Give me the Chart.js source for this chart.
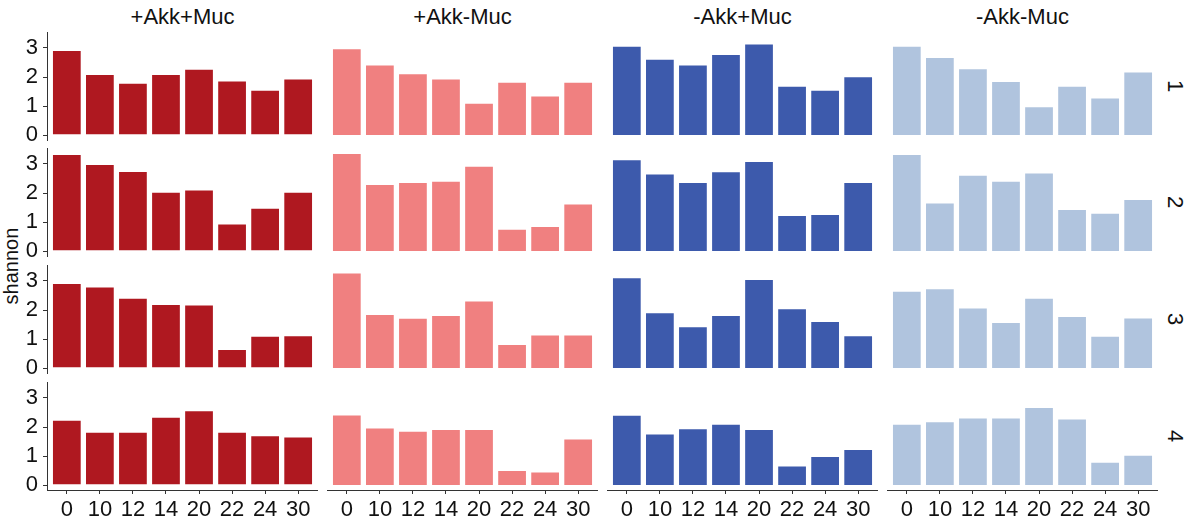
<!DOCTYPE html>
<html>
<head>
<meta charset="utf-8">
<script src="https://cdn.jsdelivr.net/npm/chart.js@4.4.0/dist/chart.umd.min.js"></script>
<style>
    body { margin: 0; background: #fff; width: 1186px; height: 525px; overflow: hidden; position: relative; font-family: "Liberation Sans", Arial, sans-serif; }
    .panel { position: absolute; }
    .strip { position: absolute; font-size: 22px; line-height: 26px; color: #111; text-align: center; white-space: nowrap; }
    .rowlab { position: absolute; font-size: 22px; line-height: 26px; color: #111; width: 40px; text-align: center; transform: rotate(90deg); }
    #ytitle { position: absolute; font-size: 20px; line-height: 22px; color: #111; width: 100px; text-align: center; transform: rotate(-90deg); }
</style>
</head>
<body>
<div id="ytitle">shannon</div>
<script>
const days = ['0', '10', '12', '14', '20', '22', '24', '30'];
const groups = ['+Akk+Muc', '+Akk-Muc', '-Akk+Muc', '-Akk-Muc'];
const replicates = ['1', '2', '3', '4'];
const groupColors = ['#AF1820', '#F08080', '#3D5AAC', '#B0C4DE'];
const yTicks = [0, 1, 2, 3];

// shannon index per replicate (rows), one list per group
const akkPlusMucPlus = [
    [2.93, 2.10, 1.80, 2.10, 2.28, 1.88, 1.56, 1.95],
    [3.34, 3.00, 2.76, 2.04, 2.12, 0.95, 1.49, 2.04],
    [2.93, 2.81, 2.42, 2.21, 2.19, 0.66, 1.11, 1.13],
    [2.25, 1.84, 1.84, 2.35, 2.58, 1.84, 1.72, 1.67]
];
const akkPlusMucMinus = [
    [2.99, 2.43, 2.13, 1.95, 1.11, 1.84, 1.36, 1.84],
    [3.38, 2.31, 2.38, 2.42, 2.94, 0.77, 0.86, 1.64],
    [3.29, 1.86, 1.73, 1.83, 2.33, 0.83, 1.16, 1.16],
    [2.43, 1.98, 1.87, 1.93, 1.93, 0.52, 0.47, 1.60]
];
const akkMinusMucPlus = [
    [3.08, 2.63, 2.43, 2.79, 3.15, 1.70, 1.56, 2.03],
    [3.16, 2.67, 2.38, 2.75, 3.10, 1.24, 1.28, 2.38],
    [3.13, 1.92, 1.44, 1.83, 3.07, 2.06, 1.62, 1.13],
    [2.42, 1.78, 1.96, 2.11, 1.93, 0.67, 1.00, 1.24]
];
const akkMinusMucMinus = [
    [3.08, 2.69, 2.30, 1.86, 0.99, 1.70, 1.29, 2.19],
    [3.34, 1.67, 2.63, 2.42, 2.71, 1.45, 1.32, 1.79],
    [2.66, 2.75, 2.09, 1.59, 2.42, 1.79, 1.11, 1.74],
    [2.11, 2.20, 2.33, 2.33, 2.69, 2.29, 0.80, 1.04]
];
const groupData = [akkPlusMucPlus, akkPlusMucMinus, akkMinusMucPlus, akkMinusMucMinus];

// facet layout
const panelLeft = [47, 327, 607, 887];
const panelTop = [32, 148, 265, 382];
const panelW = 271;
const panelH = 108;
const yAxisW = 47;
const xAxisH = 38;
const pad = 20;
const tickFont = { family: '"Liberation Sans", Arial, sans-serif', size: 22 };
const axisColor = '#333333';
const textColor = '#111111';

function addDiv(cls, text, css) {
    const d = document.createElement('div');
    d.className = cls;
    d.textContent = text;
    Object.assign(d.style, css);
    document.body.appendChild(d);
    return d;
}

groups.forEach((g, i) => {
    addDiv('strip', g, { left: panelLeft[i] + 'px', width: panelW + 'px', top: '4px' });
});

replicates.forEach((r, j) => {
    addDiv('rowlab', r, { left: (1175 - 20) + 'px', top: (panelTop[j] + panelH / 2 - 13) + 'px' });
});

const yt = document.getElementById('ytitle');
yt.style.left = (11 - 50) + 'px';
yt.style.top = (266 - 11) + 'px';

function makePanel(i, j) {
    const showY = i === 0;
    const showX = j === 3;
    const w = panelW + (showY ? yAxisW : 0);
    const h = pad + panelH + (showX ? xAxisH : pad);

    const box = document.createElement('div');
    box.className = 'panel';
    box.style.left = (panelLeft[i] - (showY ? yAxisW : 0)) + 'px';
    box.style.top = (panelTop[j] - pad) + 'px';
    const canvas = document.createElement('canvas');
    canvas.width = w;
    canvas.height = h;
    box.appendChild(canvas);
    document.body.appendChild(box);

    const values = groupData[i][j];

    new Chart(canvas.getContext('2d'), {
        type: 'bar',
        data: {
            datasets: [{
                data: values.map((v, k) => ({ x: k + 1, y: v })),
                backgroundColor: groupColors[i],
                borderColor: 'rgba(255,255,255,0.45)',
                borderWidth: 1,
                categoryPercentage: 1,
                barPercentage: 0.9
            }]
        },
        options: {
            responsive: false,
            animation: false,
            layout: { padding: { top: pad, bottom: showX ? 0 : pad, left: 0, right: 0 } },
            plugins: { legend: { display: false }, tooltip: { enabled: false } },
            scales: {
                x: {
                    type: 'linear',
                    offset: false,
                    min: 0.4,
                    max: 8.6,
                    display: showX,
                    afterBuildTicks: s => { s.ticks = days.map((d, k) => ({ value: k + 1 })); },
                    afterFit: s => { s.height = showX ? xAxisH : 0; },
                    grid: { display: true, offset: false, drawOnChartArea: false, drawTicks: true, tickLength: 4, color: axisColor },
                    border: { display: true, color: axisColor, width: 1 },
                    ticks: { callback: v => days[v - 1], font: tickFont, color: textColor, padding: 3, maxRotation: 0, autoSkip: false }
                },
                y: {
                    type: 'linear',
                    min: -0.17,
                    max: 3.55,
                    display: showY,
                    afterBuildTicks: s => { s.ticks = yTicks.map(v => ({ value: v })); },
                    afterFit: s => { s.width = showY ? yAxisW : 0; },
                    grid: { display: true, drawOnChartArea: false, drawTicks: true, tickLength: 4, color: axisColor },
                    border: { display: true, color: axisColor, width: 1 },
                    ticks: { font: tickFont, color: textColor, padding: 5, autoSkip: false }
                }
            }
        }
    });
}

for (let j = 0; j < replicates.length; j++) {
    for (let i = 0; i < groups.length; i++) {
        makePanel(i, j);
    }
}
</script>
</body>
</html>
